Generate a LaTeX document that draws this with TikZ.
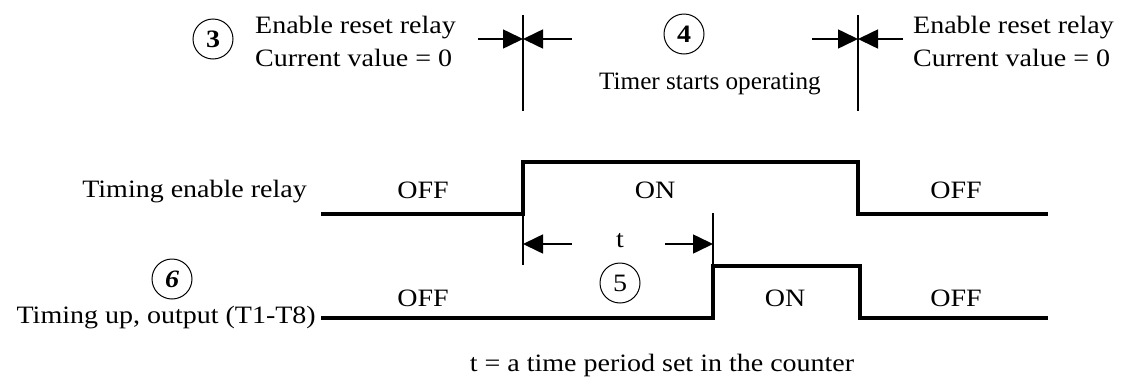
\documentclass[tikz,border=0pt]{standalone}
\usepackage{fontspec}
\usepackage{graphicx}
\setmainfont{Liberation Serif}[FakeStretch=1.12]
\usetikzlibrary{arrows.meta}
\begin{document}
\begin{tikzpicture}[x=1pt,y=-1pt,
  txt/.style={font=\fontsize{25}{33}\selectfont, inner sep=0pt},
  num/.style={draw, circle, line width=1pt, minimum size=40pt, inner sep=0pt, font=\fontsize{25}{30}\selectfont\bfseries},
  wave/.style={line width=4pt},
  thin/.style={line width=1.6pt},
  arr/.style={line width=1.6pt, -{Triangle[length=20pt,width=19pt]}}
]
\useasboundingbox (0,0) rectangle (1128,378);
% top annotations
\node[num] (n3) at (213,39) {3};
\node[txt, align=left, anchor=west] (r1) at (255,41) {Enable reset relay\\Current value = 0};
\node[num] (n4) at (684,34) {4};
\node[txt, anchor=east] (ts) at (821,84) {\scalebox{0.9}[1]{Timer starts operating}};
\node[txt, align=left, anchor=west] (r2) at (913,41) {Enable reset relay\\Current value = 0};
\coordinate (v1t) at (523,15); \coordinate (v1b) at (523,111);
\coordinate (v2t) at (858,15); \coordinate (v2b) at (858,111);
\draw[thin] (v1t) -- (v1b);
\draw[thin] (v2t) -- (v2b);
\coordinate (a1s) at (478,39); \coordinate (a1e) at (523,39); \coordinate (a1r) at (572,39);
\coordinate (a2s) at (812,39); \coordinate (a2e) at (858,39); \coordinate (a2r) at (903,39);
\draw[arr] (a1s) -- (a1e);
\draw[arr] (a1r) -- (a1e);
\draw[arr] (a2s) -- (a2e);
\draw[arr] (a2r) -- (a2e);
% upper waveform
\node[txt, anchor=east] (ter) at (307,192) {Timing enable relay};
\node[txt] (off1) at (423,190) {OFF};
\node[txt] (on1) at (655,190) {ON};
\node[txt] (off2) at (956,190) {OFF};
\coordinate (u0) at (321,214); \coordinate (u1) at (523,214); \coordinate (u2) at (523,162);
\coordinate (u3) at (858,162); \coordinate (u4) at (858,214); \coordinate (u5) at (1048,214);
\draw[wave] (u0) -- (u1) -- (u2) -- (u3) -- (u4) -- (u5);
% lower waveform points
\coordinate (l0) at (321,318); \coordinate (l1) at (713,318); \coordinate (l2) at (713,266);
\coordinate (l3) at (860,266); \coordinate (l4) at (860,318); \coordinate (l5) at (1048,318);
% dimension t
\coordinate (d1b) at (523,265);
\coordinate (d2t) at (713,213);
\draw[thin] (u1) -- (d1b);
\draw[thin] (d2t) -- (l2);
\node[txt] (t) at (620,241) {t};
\coordinate (tl) at (523,244); \coordinate (tr) at (713,244);
\coordinate (tls) at (572,244); \coordinate (trs) at (665,244);
\draw[arr] (tls) -- (tl);
\draw[arr] (trs) -- (tr);
\node[num, font=\fontsize{25}{30}\selectfont] (n5) at (620,283) {5};
% lower waveform
\node[num, font=\fontsize{25}{30}\selectfont\bfseries\itshape] (n6) at (172,279) {6};
\node[txt, anchor=east] (tup) at (316,318) {Timing up, output (T1-T8)};
\node[txt] (off3) at (423,298) {OFF};
\node[txt] (on2) at (785,298) {ON};
\node[txt] (off4) at (956,298) {OFF};
\draw[wave] (l0) -- (l1) -- (l2) -- (l3) -- (l4) -- (l5);
\node[txt] (cap) at (662,365) {t = a time period set in the counter};
\end{tikzpicture}
\end{document}
